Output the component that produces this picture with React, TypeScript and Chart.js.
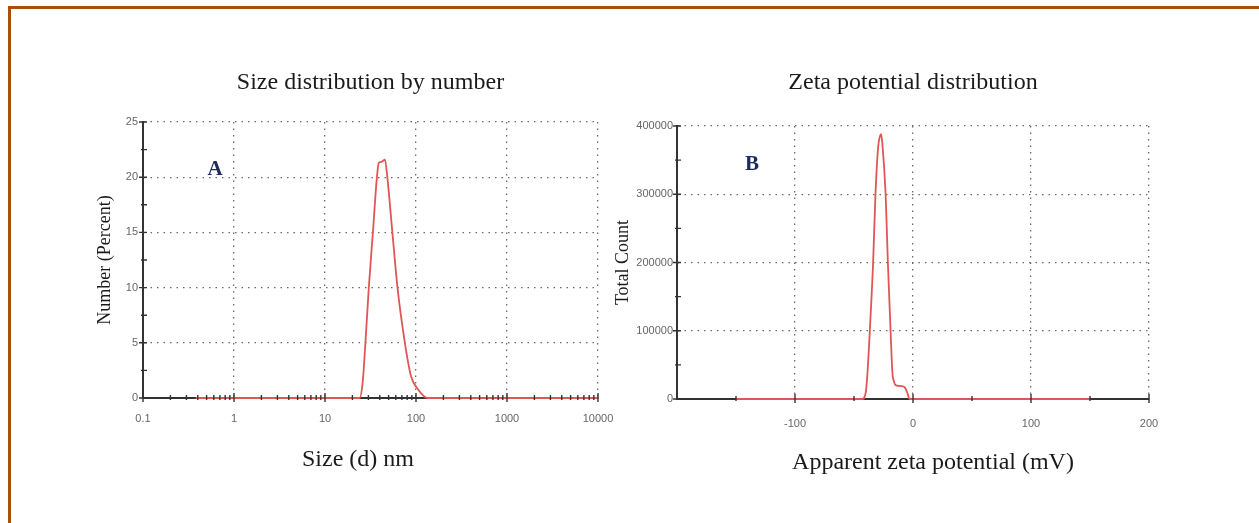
import React, { useEffect, useRef } from 'react';
import { Chart, registerables } from 'chart.js';

Chart.register(...registerables);

// ---------- Data: Size distribution by number ----------
const sizeNm = [0.38, 24, 26, 27.8, 30.3, 33.6, 37.2, 39, 42, 45.6, 48.4, 55, 62.6, 75.5, 88, 105, 135, 10000];
const numberPercent = [0, 0, 1.5, 5, 10, 15, 20, 21.3, 21.4, 21.6, 20, 15, 10, 5, 2, 0.8, 0, 0];
const sizeTicks = [0.1, 1, 10, 100, 1000, 10000];
const sizeTickLabels = ['0.1', '1', '10', '100', '1000', '10000'];
const numberTicks = [0, 5, 10, 15, 20, 25];
const numberTickLabels = ['0', '5', '10', '15', '20', '25'];
const numberMinorTicks = [2.5, 7.5, 12.5, 17.5, 22.5];

// ---------- Data: Zeta potential distribution ----------
const zetaMv = [-150, -43, -40, -38.5, -36.6, -33.8, -31.8, -29.5, -28, -27, -26, -23.2, -21.3, -19, -17.5, -16, -14.5, -10, -7, -5, -2.8, 150];
const totalCount = [0, 0, 10000, 40000, 100000, 200000, 300000, 370000, 385000, 388000, 375000, 300000, 200000, 100000, 40000, 25000, 20000, 19000, 17000, 10000, 0, 0];
const zetaTicks = [-200, -100, 0, 100, 200];
const zetaTickLabels = ['', '-100', '0', '100', '200'];
const zetaMinorTicks = [-150, -50, 50, 150];
const countTicks = [0, 100000, 200000, 300000, 400000];
const countTickLabels = ['0', '100000', '200000', '300000', '400000'];
const countMinorTicks = [50000, 150000, 250000, 350000];

const RED = '#e05656';
const AXIS = '#333333';
const GRID = '#6a6a6a';
const TICK_FONT = { family: '"Liberation Sans Narrow", "Liberation Sans", Arial, sans-serif', size: 11 };
const SERIF = '"Liberation Serif", "Times New Roman", serif';

const sizeMinorTicks: number[] = [];
for (let d = 0; d < sizeTicks.length - 1; d++) {
  for (let k = 2; k <= 9; k++) sizeMinorTicks.push(sizeTicks[d] * k);
}

const tickMarks = {
  id: 'tickMarks',
  afterDatasetsDraw(chart: any, _args: any, opts: any) {
    const { ctx, chartArea } = chart;
    const xs = chart.scales.x;
    const ys = chart.scales.y;
    ctx.save();
    ctx.strokeStyle = AXIS;
    ctx.lineWidth = 1.4;
    ctx.beginPath();
    for (const v of opts.xMajor) {
      const p = xs.getPixelForValue(v);
      ctx.moveTo(p, chartArea.bottom - 5);
      ctx.lineTo(p, chartArea.bottom + 4);
    }
    for (const v of opts.xMinor) {
      const p = xs.getPixelForValue(v);
      ctx.moveTo(p, chartArea.bottom - 3);
      ctx.lineTo(p, chartArea.bottom + 2);
    }
    for (const v of opts.yMajor) {
      const p = ys.getPixelForValue(v);
      ctx.moveTo(chartArea.left - 4, p);
      ctx.lineTo(chartArea.left + 4, p);
    }
    for (const v of opts.yMinor) {
      const p = ys.getPixelForValue(v);
      ctx.moveTo(chartArea.left - 2, p);
      ctx.lineTo(chartArea.left + 4, p);
    }
    ctx.stroke();
    ctx.restore();
  },
};

const gridColor = (c: any) => (c.index === 0 ? 'rgba(0,0,0,0)' : GRID);

function makeConfig(p: any): any {
  return {
    type: 'line',
    data: {
      datasets: [
        {
          data: p.xs.map((x: number, i: number) => ({ x, y: p.ys[i] })),
          borderColor: RED,
          borderWidth: 1.8,
          pointRadius: 0,
          cubicInterpolationMode: 'monotone',
          clip: false,
        },
      ],
    },
    options: {
      animation: false,
      responsive: false,
      events: [],
      layout: { padding: { left: 0, right: p.padRight, top: 0, bottom: 0 } },
      plugins: {
        legend: { display: false },
        tooltip: { enabled: false },
        title: {
          display: true,
          text: p.title,
          fullSize: false,
          color: '#1a1a1a',
          font: { family: SERIF, size: 24, weight: 'normal', lineHeight: 1.2 },
          padding: { top: p.titleTop, bottom: p.titleBottom },
        },
        tickMarks: p.marks,
      },
      scales: {
        x: {
          type: p.xType,
          min: p.xMin,
          max: p.xMax,
          afterBuildTicks: (s: any) => {
            s.ticks = p.xTicks.map((v: number) => ({ value: v }));
          },
          afterFit: (s: any) => {
            s.height = p.xHeight;
          },
          ticks: {
            callback: (_v: any, i: number) => p.xLabels[i],
            font: TICK_FONT,
            color: '#666',
            padding: p.xTickPad,
            maxRotation: 0,
            autoSkip: false,
          },
          grid: { color: gridColor, lineWidth: 1.3, drawTicks: false },
          border: { display: true, color: AXIS, width: 2, dash: [1.5, 5] },
        },
        y: {
          type: 'linear',
          min: p.yMin,
          max: p.yMax,
          afterBuildTicks: (s: any) => {
            s.ticks = p.yTicks.map((v: number) => ({ value: v }));
          },
          afterFit: (s: any) => {
            s.width = p.yWidth;
          },
          ticks: {
            callback: (_v: any, i: number) => p.yLabels[i],
            font: TICK_FONT,
            color: '#666',
            padding: p.yTickPad,
            autoSkip: false,
          },
          grid: { color: gridColor, lineWidth: 1.3, drawTicks: false },
          border: { display: true, color: AXIS, width: 2, dash: [1.5, 5] },
          title: {
            display: true,
            text: p.yTitle,
            color: '#1a1a1a',
            font: { family: SERIF, size: 18, weight: 'normal', lineHeight: 1.2 },
            padding: { top: p.yTitlePad, bottom: 0 },
          },
        },
      },
    },
    plugins: [tickMarks],
  };
}

function ChartCanvas({ config, left, width }: { config: any; left: number; width: number }) {
  const ref = useRef<HTMLCanvasElement | null>(null);
  useEffect(() => {
    if (!ref.current) return;
    const chart = new Chart(ref.current, config);
    return () => chart.destroy();
  }, [config]);
  return (
    <canvas
      ref={ref}
      width={width}
      height={523}
      style={{ position: 'absolute', left, top: 0, width, height: 523 }}
    />
  );
}

const sizeConfig = makeConfig({
  xs: sizeNm,
  ys: numberPercent,
  title: 'Size distribution by number',
  titleTop: 68.6,
  titleBottom: 24.6,
  padRight: 32,
  xType: 'logarithmic',
  xMin: 0.1,
  xMax: 10000,
  xTicks: sizeTicks,
  xLabels: sizeTickLabels,
  xHeight: 125,
  xTickPad: 14,
  yMin: 0,
  yMax: 25,
  yTicks: numberTicks,
  yLabels: numberTickLabels,
  yWidth: 143,
  yTickPad: 5,
  yTitle: 'Number (Percent)',
  yTitlePad: 94.2,
  marks: { xMajor: sizeTicks, xMinor: sizeMinorTicks, yMajor: numberTicks, yMinor: numberMinorTicks },
});

const zetaConfig = makeConfig({
  xs: zetaMv,
  ys: totalCount,
  title: 'Zeta potential distribution',
  titleTop: 68.6,
  titleBottom: 28.6,
  padRight: 110,
  xType: 'linear',
  xMin: -200,
  xMax: 200,
  xTicks: zetaTicks,
  xLabels: zetaTickLabels,
  xHeight: 124,
  xTickPad: 18,
  yMin: 0,
  yMax: 400000,
  yTicks: countTicks,
  yLabels: countTickLabels,
  yWidth: 72,
  yTickPad: 4,
  yTitle: 'Total Count',
  yTitlePad: 7.2,
  marks: { xMajor: zetaTicks.slice(1), xMinor: zetaMinorTicks, yMajor: countTicks, yMinor: countMinorTicks },
});

const labelStyle: React.CSSProperties = {
  position: 'absolute',
  transform: 'translate(-50%, -50%)',
  whiteSpace: 'nowrap',
  fontFamily: SERIF,
};

export default function App() {
  return (
    <div
      style={{
        position: 'fixed',
        left: 0,
        top: 0,
        width: 1259,
        height: 523,
        overflow: 'hidden',
        background: '#ffffff',
      }}
    >
      <div
        style={{
          position: 'absolute',
          left: 8,
          top: 6,
          width: 1300,
          height: 700,
          borderTop: '3px solid #a3510f',
          borderLeft: '3px solid #a3510f',
        }}
      />
      <ChartCanvas config={sizeConfig} left={0} width={630} />
      <ChartCanvas config={zetaConfig} left={605} width={654} />
      <div style={{ ...labelStyle, left: 358, top: 458, fontSize: 24, color: '#1a1a1a' }}>Size (d) nm</div>
      <div style={{ ...labelStyle, left: 933, top: 461, fontSize: 24, color: '#1a1a1a' }}>Apparent zeta potential (mV)</div>
      <div style={{ ...labelStyle, left: 215, top: 168, fontSize: 21, fontWeight: 'bold', color: '#1c2a5c' }}>A</div>
      <div style={{ ...labelStyle, left: 752, top: 163, fontSize: 21, fontWeight: 'bold', color: '#1c2a5c' }}>B</div>
    </div>
  );
}
